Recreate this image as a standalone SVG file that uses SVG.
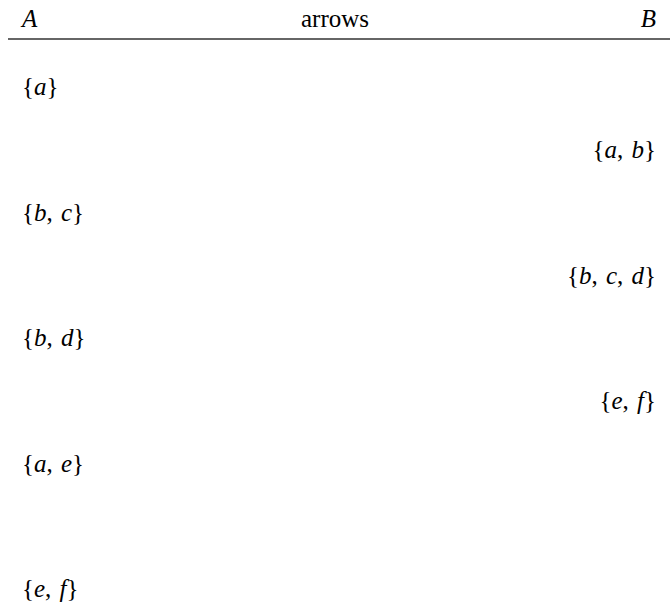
<svg xmlns="http://www.w3.org/2000/svg" width="670" height="605" viewBox="0 0 670 605" font-family="'Liberation Serif', 'Times New Roman', serif">
<style>
text{font-family:'Liberation Serif','Times New Roman',serif;font-size:25px;fill:#000}
.i{font-style:italic}
.r{text-anchor:end}
</style>
<rect width="670" height="605" fill="#fff"/>
<g id="header">
<text x="22" y="27" class="i">A</text>
<text x="335" y="27" text-anchor="middle">arrows</text>
<text x="656" y="27" class="i r">B</text>
<line x1="8" y1="39" x2="670" y2="39" stroke="#333" stroke-width="1.5"/>
</g>
<g id="nodes">
<g id="a1"><text x="22" y="95">{<tspan class="i">a</tspan>}</text></g>
<g id="b1"><text x="656" y="158" class="r">{<tspan class="i">a</tspan>, <tspan class="i" dx="2">b</tspan>}</text></g>
<g id="a2"><text x="22" y="221">{<tspan class="i">b</tspan>, <tspan class="i" dx="2">c</tspan>}</text></g>
<g id="b2"><text x="656" y="284" class="r">{<tspan class="i">b</tspan>, <tspan class="i" dx="2">c</tspan>, <tspan class="i" dx="2">d</tspan>}</text></g>
<g id="a3"><text x="22" y="346">{<tspan class="i">b</tspan>, <tspan class="i" dx="2">d</tspan>}</text></g>
<g id="b3"><text x="656" y="409" class="r">{<tspan class="i">e</tspan>, <tspan class="i" dx="2">f</tspan>}</text></g>
<g id="a4"><text x="22" y="472">{<tspan class="i">a</tspan>, <tspan class="i" dx="2">e</tspan>}</text></g>
<g id="a5"><text x="22" y="597">{<tspan class="i">e</tspan>, <tspan class="i" dx="2">f</tspan>}</text></g>
</g>
<g id="connectors"></g>
</svg>
